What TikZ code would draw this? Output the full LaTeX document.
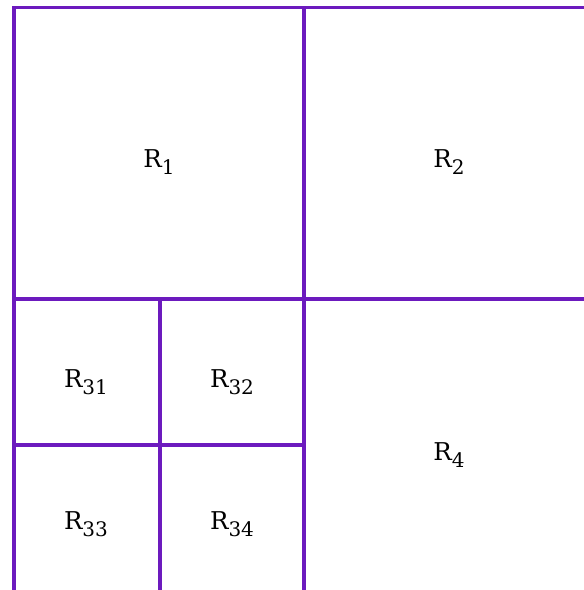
\documentclass[tikz,border=0pt]{standalone}
\usepackage{fontspec}
\setmainfont{DejaVu Serif}
\usepackage{tikz}
\usetikzlibrary{positioning}

\definecolor{cellpurple}{RGB}{108,26,190}
\newcommand{\cellname}[1]{R\raisebox{-7pt}{\fontsize{20}{23}\selectfont #1}}

\begin{document}
\begin{tikzpicture}[
    x=1pt, y=-1pt,
    wall/.style={draw=cellpurple, line width=3.8pt, line cap=rect},
    cell/.style={inner sep=0pt, font=\fontsize{24.5}{29}\selectfont}
]
\useasboundingbox (0,0) rectangle (584,590);

% outline and splits
\draw[wall] (586,7.5) -- (14,7.5) -- (14,592);
\draw[wall] (304,7.5) -- (304,592);
\draw[wall] (14,299) -- (586,299);
\draw[wall] (160,299) -- (160,592);
\draw[wall] (14,445) -- (304,445);

% labels
\node[cell] (R1) at (159,162) {\cellname{1}};
\node[cell] (R2) at (449,162) {\cellname{2}};
\node[cell] (R31) at (86,382) {\cellname{31}};
\node[cell] (R32) at (232,382) {\cellname{32}};
\node[cell] (R33) at (86,524) {\cellname{33}};
\node[cell] (R34) at (232,524) {\cellname{34}};
\node[cell] (R4) at (449,455) {\cellname{4}};
\end{tikzpicture}
\end{document}
